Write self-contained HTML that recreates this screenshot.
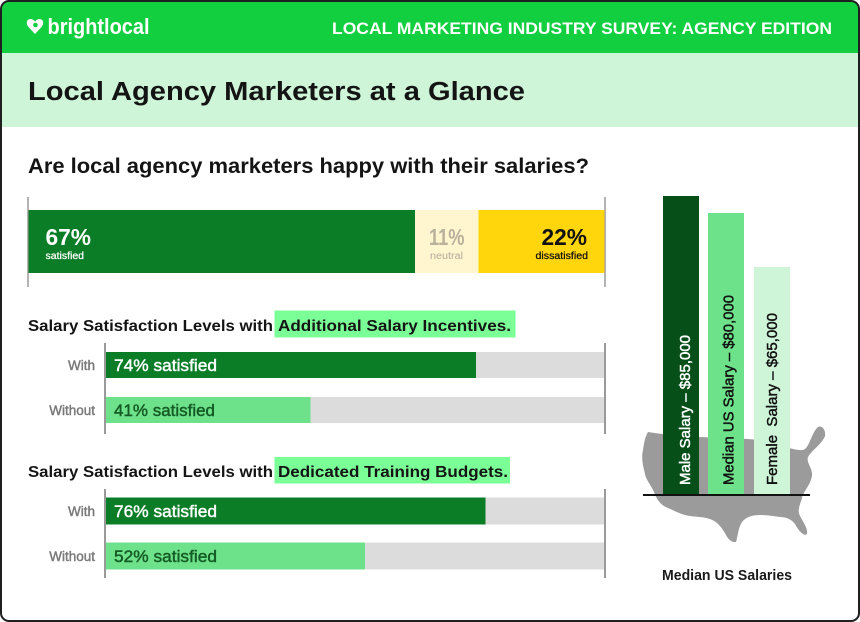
<!DOCTYPE html>
<html><head><meta charset="utf-8"><style>
html,body{margin:0;padding:0;background:#fff;}
svg{display:block;}
text{font-family:"Liberation Sans",Arial,sans-serif;}
.med{stroke-width:0.45;}
</style></head><body>
<svg width="860" height="622" viewBox="0 0 860 622" xmlns="http://www.w3.org/2000/svg">
<defs>
<clipPath id="c"><rect x="1" y="1" width="858" height="620" rx="8" ry="8"/></clipPath>
</defs>
<rect x="0" y="0" width="860" height="622" fill="#ffffff"/>
<g clip-path="url(#c)">
<rect x="0" y="0" width="860" height="622" fill="#ffffff"/>
<rect x="0" y="0" width="860" height="53" fill="#11CF3F"/>
<rect x="0" y="53" width="860" height="74" fill="#CFF5D9"/>
</g>
<rect x="1" y="1" width="858" height="620" rx="8" ry="8" fill="none" stroke="#1f1f1f" stroke-width="2"/>

<!-- logo -->
<g fill="#ffffff">
<path d="M35 34 L28.5 27 C25.5 23.5 26.5 19 30.5 19 C32.5 19 34 20.2 35 21.6 C36 20.2 37.5 19 39.5 19 C43.5 19 44.5 23.5 41.5 27 Z"/>
<circle cx="35.5" cy="25" r="2.3" fill="#11CF3F"/>
</g>
<text x="47.5" y="34" font-size="22" font-weight="bold" fill="#fff" textLength="102" lengthAdjust="spacingAndGlyphs">brightlocal</text>
<text x="332" y="34" font-size="17" font-weight="bold" fill="#fff" textLength="500" lengthAdjust="spacingAndGlyphs">LOCAL MARKETING INDUSTRY SURVEY: AGENCY EDITION</text>

<text x="28" y="100" font-size="25.5" font-weight="bold" fill="#141414" textLength="497" lengthAdjust="spacingAndGlyphs">Local Agency Marketers at a Glance</text>

<text x="28" y="173" font-size="21" font-weight="bold" fill="#141414" textLength="561" lengthAdjust="spacingAndGlyphs">Are local agency marketers happy with their salaries?</text>

<!-- stacked bar -->
<line x1="28" y1="197" x2="28" y2="287" stroke="#9a9a9a" stroke-width="1.5"/>
<line x1="605" y1="197" x2="605" y2="287" stroke="#9a9a9a" stroke-width="1.5"/>
<rect x="28.5" y="210" width="386.5" height="63" fill="#0B7D27"/>
<rect x="415" y="210" width="63.5" height="63" fill="#FFF6CF"/>
<rect x="478.5" y="210" width="126" height="63" fill="#FFD50B"/>
<text x="45.5" y="245" font-size="23" font-weight="bold" fill="#fff" textLength="45.5" lengthAdjust="spacingAndGlyphs">67%</text>
<text x="45.5" y="259" font-size="10" fill="#fff" stroke="#fff" stroke-width="0.25" textLength="38.5" lengthAdjust="spacingAndGlyphs">satisfied</text>
<text x="429" y="245" font-size="23" font-weight="bold" fill="#B8B19C" textLength="35.5" lengthAdjust="spacingAndGlyphs">11%</text>
<text x="430" y="259" font-size="10" fill="#B0AA98" textLength="33" lengthAdjust="spacingAndGlyphs">neutral</text>
<text x="541.5" y="245" font-size="23" font-weight="bold" fill="#111" textLength="45.5" lengthAdjust="spacingAndGlyphs">22%</text>
<text x="535.5" y="259" font-size="10" fill="#111" stroke="#111" stroke-width="0.25" textLength="52.5" lengthAdjust="spacingAndGlyphs">dissatisfied</text>

<!-- section 2 -->
<rect x="274.5" y="310.5" width="241" height="27" fill="#7BFF97"/>
<text x="28" y="331" font-size="15.5" font-weight="bold" fill="#141414" textLength="245" lengthAdjust="spacingAndGlyphs">Salary Satisfaction Levels with</text>
<text x="278" y="331" font-size="15.5" font-weight="bold" fill="#141414" textLength="233" lengthAdjust="spacingAndGlyphs">Additional Salary Incentives.</text>
<rect x="105" y="352" width="500" height="26" fill="#DCDCDC"/>
<rect x="105" y="352" width="371" height="26" fill="#0B7D27"/>
<rect x="105" y="397" width="500" height="26" fill="#DCDCDC"/>
<rect x="105" y="397" width="205.5" height="26" fill="#6EE28A"/>
<line x1="105" y1="343" x2="105" y2="434" stroke="#9a9a9a" stroke-width="2"/>
<line x1="605" y1="343" x2="605" y2="434" stroke="#9a9a9a" stroke-width="2"/>
<text x="95" y="370" font-size="13.5" fill="#7a7a7a" stroke="#7a7a7a" class="med" text-anchor="end">With</text>
<text x="95" y="415" font-size="13.5" fill="#7a7a7a" stroke="#7a7a7a" class="med" text-anchor="end">Without</text>
<text x="114" y="371" font-size="17" fill="#fff" stroke="#fff" class="med" textLength="103" lengthAdjust="spacingAndGlyphs">74% satisfied</text>
<text x="114" y="416" font-size="17" fill="#145A24" stroke="#145A24" class="med" textLength="101" lengthAdjust="spacingAndGlyphs">41% satisfied</text>

<!-- section 3 -->
<rect x="274.5" y="457" width="235.5" height="26.5" fill="#7BFF97"/>
<text x="28" y="477" font-size="15.5" font-weight="bold" fill="#141414" textLength="245" lengthAdjust="spacingAndGlyphs">Salary Satisfaction Levels with</text>
<text x="278" y="477" font-size="15.5" font-weight="bold" fill="#141414" textLength="230" lengthAdjust="spacingAndGlyphs">Dedicated Training Budgets.</text>
<rect x="105" y="497.5" width="500" height="27" fill="#DCDCDC"/>
<rect x="105" y="497.5" width="380.5" height="27" fill="#0B7D27"/>
<rect x="105" y="542.5" width="500" height="27" fill="#DCDCDC"/>
<rect x="105" y="542.5" width="260" height="27" fill="#6EE28A"/>
<line x1="105" y1="489" x2="105" y2="578" stroke="#9a9a9a" stroke-width="2"/>
<line x1="605" y1="489" x2="605" y2="578" stroke="#9a9a9a" stroke-width="2"/>
<text x="95" y="516" font-size="13.5" fill="#7a7a7a" stroke="#7a7a7a" class="med" text-anchor="end">With</text>
<text x="95" y="561" font-size="13.5" fill="#7a7a7a" stroke="#7a7a7a" class="med" text-anchor="end">Without</text>
<text x="114" y="517" font-size="17" fill="#fff" stroke="#fff" class="med" textLength="103" lengthAdjust="spacingAndGlyphs">76% satisfied</text>
<text x="114" y="562" font-size="17" fill="#145A24" stroke="#145A24" class="med" textLength="103" lengthAdjust="spacingAndGlyphs">52% satisfied</text>

<!-- map -->
<path fill="#9B9B9B" d="M648 432 C660 434 680 436 700 437 C720 438 740 438 760 440 C768 441 772 444 778 445 C790 448 800 452 805 449 C810 445 812 432 818 427 C822 425 826 430 825 436 C822 444 812 450 808 457 C806 463 813 468 812 476 C810 486 803 492 802 498 C800 505 797 510 800 516 C803 522 808 528 807 534 C804 537 798 530 795 524 C791 519 786 517 780 517 C772 516 768 515 760 515 C752 515 746 517 742 522 C738 528 738 536 736 542 C732 543 728 539 726 535 C722 528 718 522 710 519 C704 517 698 517 690 516 C682 515 675 511 668 508 C660 505 656 498 654 492 C651 485 646 480 645 474 C643 466 641 458 643 450 C644 443 645 437 648 432 Z"/>

<!-- vertical bars -->
<rect x="663" y="196" width="36" height="298" fill="#064F18"/>
<rect x="708" y="213" width="36" height="281" fill="#6EE28A"/>
<rect x="754" y="267" width="36" height="227" fill="#CFF5D9"/>
<line x1="643" y1="495" x2="810" y2="495" stroke="#111" stroke-width="2"/>
<text transform="translate(690,485) rotate(-90)" font-size="15" fill="#fff" stroke="#fff" class="med" textLength="150" lengthAdjust="spacingAndGlyphs">Male Salary – $85,000</text>
<text transform="translate(733.5,485) rotate(-90)" font-size="15" fill="#111" stroke="#111" class="med" textLength="190" lengthAdjust="spacingAndGlyphs">Median US Salary – $80,000</text>
<text transform="translate(777,485) rotate(-90)" font-size="15" fill="#111" stroke="#111" class="med" textLength="172" lengthAdjust="spacingAndGlyphs" xml:space="preserve">Female  Salary – $65,000</text>

<text x="662" y="580" font-size="15" font-weight="bold" fill="#1a1a1a" textLength="130" lengthAdjust="spacingAndGlyphs">Median US Salaries</text>
</svg>
</body></html>
